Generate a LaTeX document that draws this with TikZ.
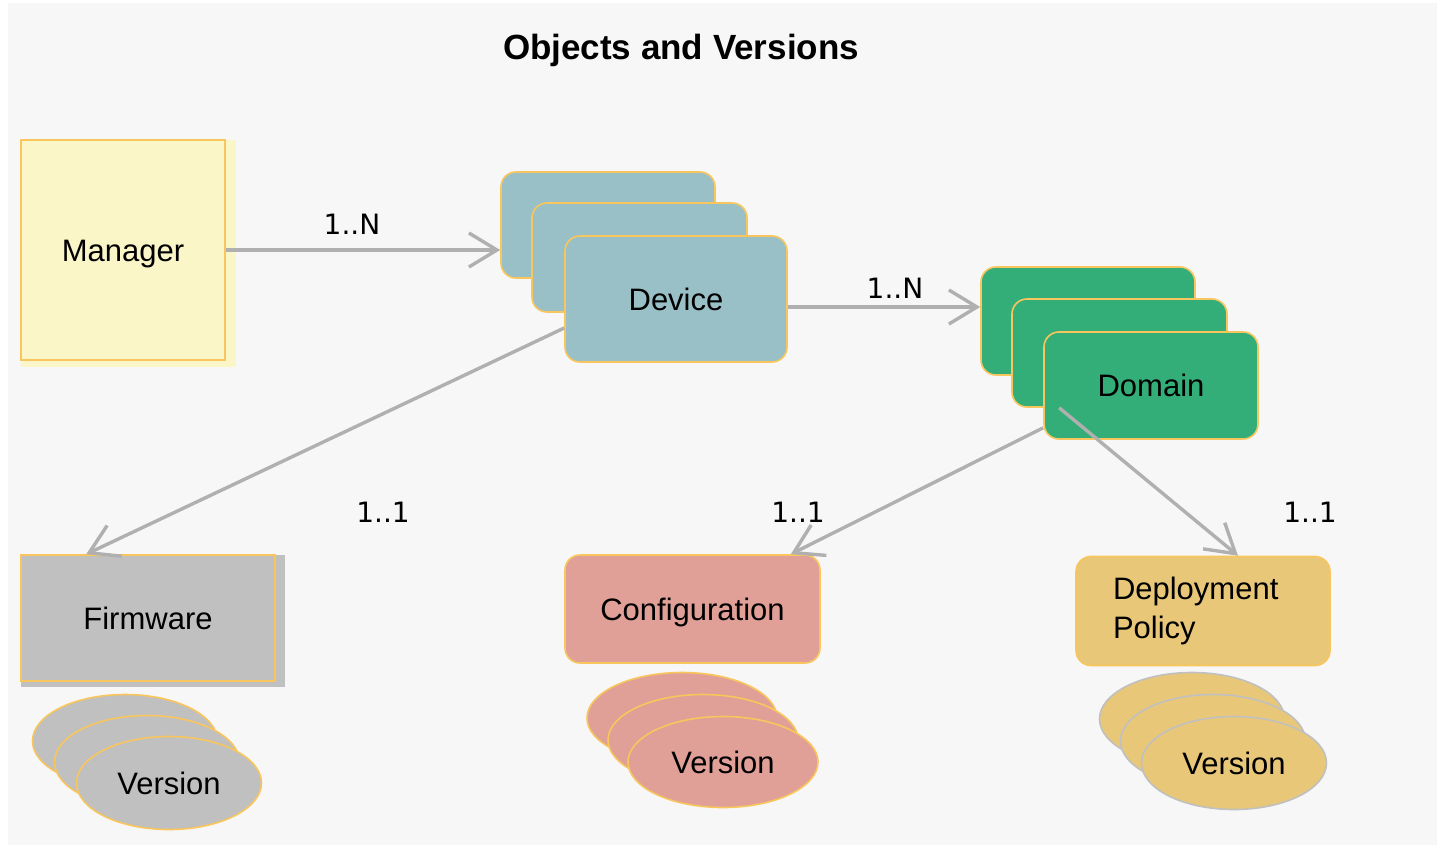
\documentclass[tikz,border=0pt]{standalone}
\usepackage{fontspec}
\setmainfont{Liberation Sans}
\newfontfamily\cardfont{DejaVu Sans}
\usepackage{tikz}
\usetikzlibrary{shapes.geometric, arrows.meta, positioning}

\definecolor{panelgray}{RGB}{247,247,247}
\definecolor{edgeyellow}{RGB}{248,198,92}
\definecolor{managerfill}{RGB}{250,246,200}
\definecolor{devicefill}{RGB}{153,192,199}
\definecolor{domainfill}{RGB}{51,174,120}
\definecolor{firmfill}{RGB}{192,192,192}
\definecolor{conffill}{RGB}{224,160,151}
\definecolor{policyfill}{RGB}{232,200,120}
\definecolor{linegray}{RGB}{176,176,176}

\begin{document}
\begin{tikzpicture}[
    x=0.5pt, y=-0.5pt,
    box/.style={rectangle, draw=edgeyellow, line width=0.8pt, inner sep=0pt, text height=11pt, text depth=0pt, font=\fontsize{15.5}{19.5}\selectfont},
    rbox/.style={box, rounded corners=7.5pt},
    version/.style={ellipse, draw=edgeyellow, line width=0.8pt, inner sep=0pt, minimum width=92.5pt, minimum height=46.5pt, font=\fontsize{15.5}{19.5}\selectfont},
    card/.style={font=\cardfont\fontsize{14}{16}\selectfont},
    arrow/.style={draw=linegray, line width=1.7pt, -{Straight Barb[length=14pt, width=17pt, line width=1.7pt]}}
]
    \useasboundingbox (0,0) rectangle (1441,847);
    \fill[white] (0,0) rectangle (1441,847);
    \fill[panelgray] (8,3) rectangle (1437,845);

    \node[font=\bfseries\fontsize{17.5}{21}\selectfont] (title) at (681,50) {Objects and Versions};

    % manager
    \fill[managerfill] (21,140) rectangle (236,367);
    \node[box, fill=managerfill, minimum width=102pt, minimum height=110pt] (man) at (123,250) {Manager};

    % device stack
    \node[rbox, fill=devicefill, minimum width=107pt, minimum height=53pt] (dev1) at (608,225) {};
    \node[rbox, fill=devicefill, minimum width=107.5pt, minimum height=54.5pt] (dev2) at (639.5,257.5) {};
    \node[rbox, fill=devicefill, minimum width=111pt, minimum height=63pt] (dev) at (676,299) {Device};

    % domain stack
    \node[rbox, fill=domainfill, minimum width=107pt, minimum height=54pt] (dom1) at (1088,321) {};
    \node[rbox, fill=domainfill, minimum width=107.5pt, minimum height=54pt] (dom2) at (1119.5,353) {};
    \node[rbox, fill=domainfill, minimum width=107pt, minimum height=53.5pt] (dom) at (1151,385.5) {Domain};

    % firmware
    \fill[firmfill] (21,555) rectangle (285,687);
    \node[box, fill=firmfill, minimum width=127pt, minimum height=63pt] (fw) at (148,618) {Firmware};
    \node[version, fill=firmfill] (fwv1) at (125,741) {};
    \node[version, fill=firmfill] (fwv2) at (147,762) {};
    \node[version, fill=firmfill] (fwv) at (169,783) {Version};

    % configuration
    \node[rbox, fill=conffill, minimum width=127.5pt, minimum height=54pt] (conf) at (692.5,609) {Configuration};
    \node[version, fill=conffill, minimum width=95pt, minimum height=45.5pt] (confv1) at (682,718) {};
    \node[version, fill=conffill, minimum width=95pt, minimum height=45.5pt] (confv2) at (703,740) {};
    \node[version, fill=conffill, minimum width=95pt, minimum height=45.5pt] (confv) at (723,762) {Version};

    % deployment policy
    \node[rbox, fill=policyfill, minimum width=127pt, minimum height=54.5pt, text width=90pt, inner xsep=18.5pt, align=left, text height=, text depth=] (dpol) at (1203,611) {Deployment\\Policy};
    \node[version, fill=policyfill, draw=firmfill] (dpolv1) at (1192,719) {};
    \node[version, fill=policyfill, draw=firmfill] (dpolv2) at (1213,741) {};
    \node[version, fill=policyfill, draw=firmfill] (dpolv) at (1234,763) {Version};

    % connectors
    \draw[arrow] (man.east) -- (man.east -| dev1.west);
    \draw[arrow] ([yshift=-4pt]dev.east) -- ([yshift=-4pt]dev.east -| dom1.west);
    \draw[arrow] ([yshift=-14.5pt]dev.west) -- ([xshift=33pt]fw.north west);
    \draw[arrow] ([yshift=6pt]dom.south west) -- ([xshift=-15pt]conf.north east);
    \draw[arrow] ([xshift=8pt, yshift=16pt]dom.south west) -- ([xshift=17.5pt]dpol.north);

    % multiplicities
    \node[card] (c1) at (352,224) {1..N};
    \node[card] (c2) at (895,288) {1..N};
    \node[card] (c3) at (383,512) {1..1};
    \node[card] (c4) at (798,512) {1..1};
    \node[card] (c5) at (1310,512) {1..1};
\end{tikzpicture}
\end{document}
